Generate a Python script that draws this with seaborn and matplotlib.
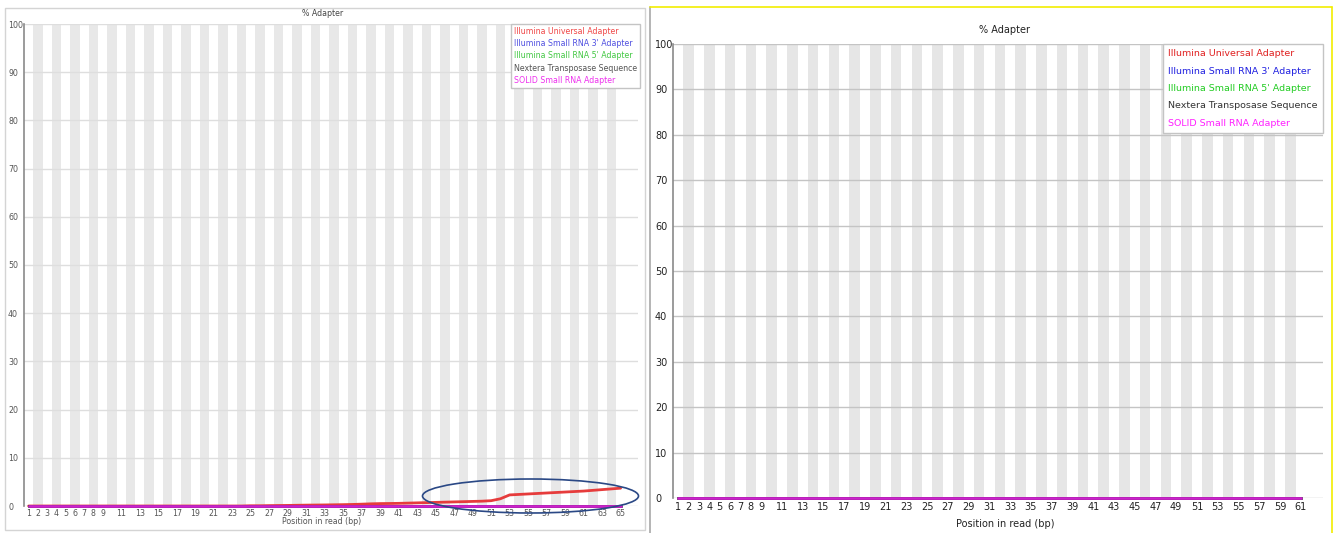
import matplotlib
matplotlib.use('Agg')
import matplotlib.pyplot as plt
import seaborn as sns
from matplotlib.lines import Line2D
from matplotlib.patches import Ellipse, Rectangle

series_names = ['Illumina Universal Adapter', "Illumina Small RNA 3' Adapter",
                "Illumina Small RNA 5' Adapter", 'Nextera Transposase Sequence',
                'SOLID Small RNA Adapter']

# left panel: reads of 65 bp
left_positions = list(range(1, 66))
left_universal = [0.0, 0.0, 0.0, 0.0, 0.0, 0.0, 0.0, 0.0, 0.0, 0.0,
                  0.0, 0.0, 0.0, 0.0, 0.0, 0.0, 0.0, 0.0, 0.0, 0.0,
                  0.0, 0.0, 0.0, 0.0, 0.05, 0.05, 0.08, 0.1, 0.12, 0.15,
                  0.18, 0.2, 0.22, 0.25, 0.28, 0.32, 0.38, 0.45, 0.5, 0.52,
                  0.55, 0.6, 0.65, 0.7, 0.75, 0.8, 0.85, 0.9, 0.95, 1.0,
                  1.1, 1.5, 2.3, 2.4, 2.5, 2.6, 2.7, 2.8, 2.9, 3.0,
                  3.1, 3.25, 3.4, 3.55, 3.7]
left_small3 = [0.0] * 65
left_small5 = [0.0] * 65
left_nextera = [0.0] * 65
left_solid = [0.0] * 65
left_ticks = [1, 2, 3, 4, 5, 6, 7, 8, 9, 11, 13, 15, 17, 19, 21, 23, 25, 27, 29,
              31, 33, 35, 37, 39, 41, 43, 45, 47, 49, 51, 53, 55, 57, 59, 61, 63, 65]

# right panel: reads of 61 bp, nothing found
right_positions = list(range(1, 62))
right_universal = [0.0] * 61
right_small3 = [0.0] * 61
right_small5 = [0.0] * 61
right_nextera = [0.0] * 61
right_solid = [0.0] * 61
right_ticks = [1, 2, 3, 4, 5, 6, 7, 8, 9, 11, 13, 15, 17, 19, 21, 23, 25, 27, 29,
               31, 33, 35, 37, 39, 41, 43, 45, 47, 49, 51, 53, 55, 57, 59, 61]

y_ticks = [0, 10, 20, 30, 40, 50, 60, 70, 80, 90, 100]

line_colors = ['#e63c3c', '#2323c0', '#22a822', '#202020', '#cc22cc']
text_colors_left = ['#f04848', '#5050e0', '#44c844', '#555555', '#ee30ee']
text_colors_right = ['#e02020', '#2020e0', '#22cc22', '#333333', '#ff20ff']

sns.set_theme(style='white')
plt.rcParams['font.family'] = ['DejaVu Sans']

W, H = 1338, 533
fig = plt.figure(figsize=(W / 100, H / 100), dpi=100)


def draw_panel(ax, positions, values_list, ticks, xmax, grid_col, tick_col,
               fs, legend_fs, spacing, bpad, anchor_x, ypad, xpad, text_colors, stripe_col):
    for p in positions:
        if p % 2 == 0:
            ax.axvspan(p - 0.5, p + 0.5, color=stripe_col, lw=0, zorder=0)
    # one call per series, in legend order, so SOLID ends up on top like FastQC
    for k, vals in enumerate(values_list):
        sns.lineplot(x=positions, y=vals, color=line_colors[k], lw=2,
                     estimator=None, sort=False, ax=ax, zorder=3 + 0.1 * k, clip_on=False)
    ax.set_xlim(0.5, xmax)
    ax.set_ylim(0, 100)
    ax.set_xticks(ticks)
    ax.set_xticklabels([str(t) for t in ticks])
    ax.set_yticks(y_ticks)
    ax.set_yticklabels([str(t) for t in y_ticks])
    ax.grid(axis='y', color=grid_col, lw=1)
    ax.grid(axis='x', visible=False)
    ax.set_axisbelow('line')
    ax.tick_params(length=0, labelsize=fs, colors=tick_col)
    ax.tick_params(axis='y', pad=ypad)
    ax.tick_params(axis='x', pad=xpad)
    for lab in ax.get_yticklabels():
        lab.set_horizontalalignment('left')
    for side in ['top', 'right', 'bottom']:
        ax.spines[side].set_visible(False)
    ax.spines['left'].set_color('#8a8a8a')
    ax.spines['left'].set_linewidth(1.2)
    ax.set_xlabel('')
    ax.set_ylabel('')
    handles = [Line2D([], [], linestyle='none') for _ in series_names]
    leg = ax.legend(handles, series_names, loc='upper right', bbox_to_anchor=(anchor_x, 1.0),
                    borderaxespad=0, handlelength=0, handletextpad=0, fontsize=legend_fs,
                    labelspacing=spacing, borderpad=bpad, fancybox=False,
                    framealpha=1, edgecolor='#c4c4c4', labelcolor=text_colors)
    leg.get_frame().set_linewidth(1)
    leg.set_zorder(5)


ax1 = fig.add_axes([24 / W, 1 - 506 / H, 614 / W, 482 / H])
draw_panel(ax1, left_positions,
           [left_universal, left_small3, left_small5, left_nextera, left_solid],
           left_ticks, 0.5 + 614 / 9.25, '#dedede', '#555555',
           5.7, 5.7, 0.4, 0.38, 1.003, 11.5, 2.5, text_colors_left, '#e8e8e8')

ax2 = fig.add_axes([673 / W, 1 - 498 / H, 650 / W, 454 / H])
draw_panel(ax2, right_positions,
           [right_universal, right_small3, right_small5, right_nextera, right_solid],
           right_ticks, 0.5 + 650 / 10.375, '#c4c4c4', '#222222',
           7, 6.8, 0.89, 0.55, 1.0, 13, 3, text_colors_right, '#e6e6e6')

# titles and x labels, placed like the FastQC panels
fig.text(323 / W, 1 - 13 / H, '% Adapter', ha='center', va='center', fontsize=5.7, color='#444444')
fig.text(322 / W, 1 - 522 / H, 'Position in read (bp)', ha='center', va='center', fontsize=5.7, color='#555555')
fig.text(1005 / W, 1 - 30 / H, '% Adapter', ha='center', va='center', fontsize=7, color='#222222')
fig.text(1005 / W, 1 - 524 / H, 'Position in read (bp)', ha='center', va='center', fontsize=7, color='#222222')

# hand-drawn highlight around the rising adapter curve
fig.add_artist(Ellipse((530.5 / W, 1 - 496 / H), 216 / W, 34 / H, transform=fig.transFigure,
                       fill=False, edgecolor='#2a4885', lw=1.2, zorder=10))

# screenshot frames
fig.add_artist(Rectangle((5 / W, 1 - 530 / H), 640 / W, 522 / H, transform=fig.transFigure,
                         fill=False, edgecolor='#d4d4d4', lw=1))
fig.add_artist(Line2D([650 / W, 650 / W], [0, 1 - 7 / H], transform=fig.transFigure,
                      color='#a8a8a8', lw=1.2))
fig.add_artist(Line2D([650 / W, 1332 / W], [1 - 7 / H, 1 - 7 / H], transform=fig.transFigure,
                      color='#f2ee00', lw=1.2))
fig.add_artist(Line2D([1332 / W, 1332 / W], [0, 1 - 7 / H], transform=fig.transFigure,
                      color='#f2ee00', lw=1.2))

fig.savefig('out.png', dpi=100)
